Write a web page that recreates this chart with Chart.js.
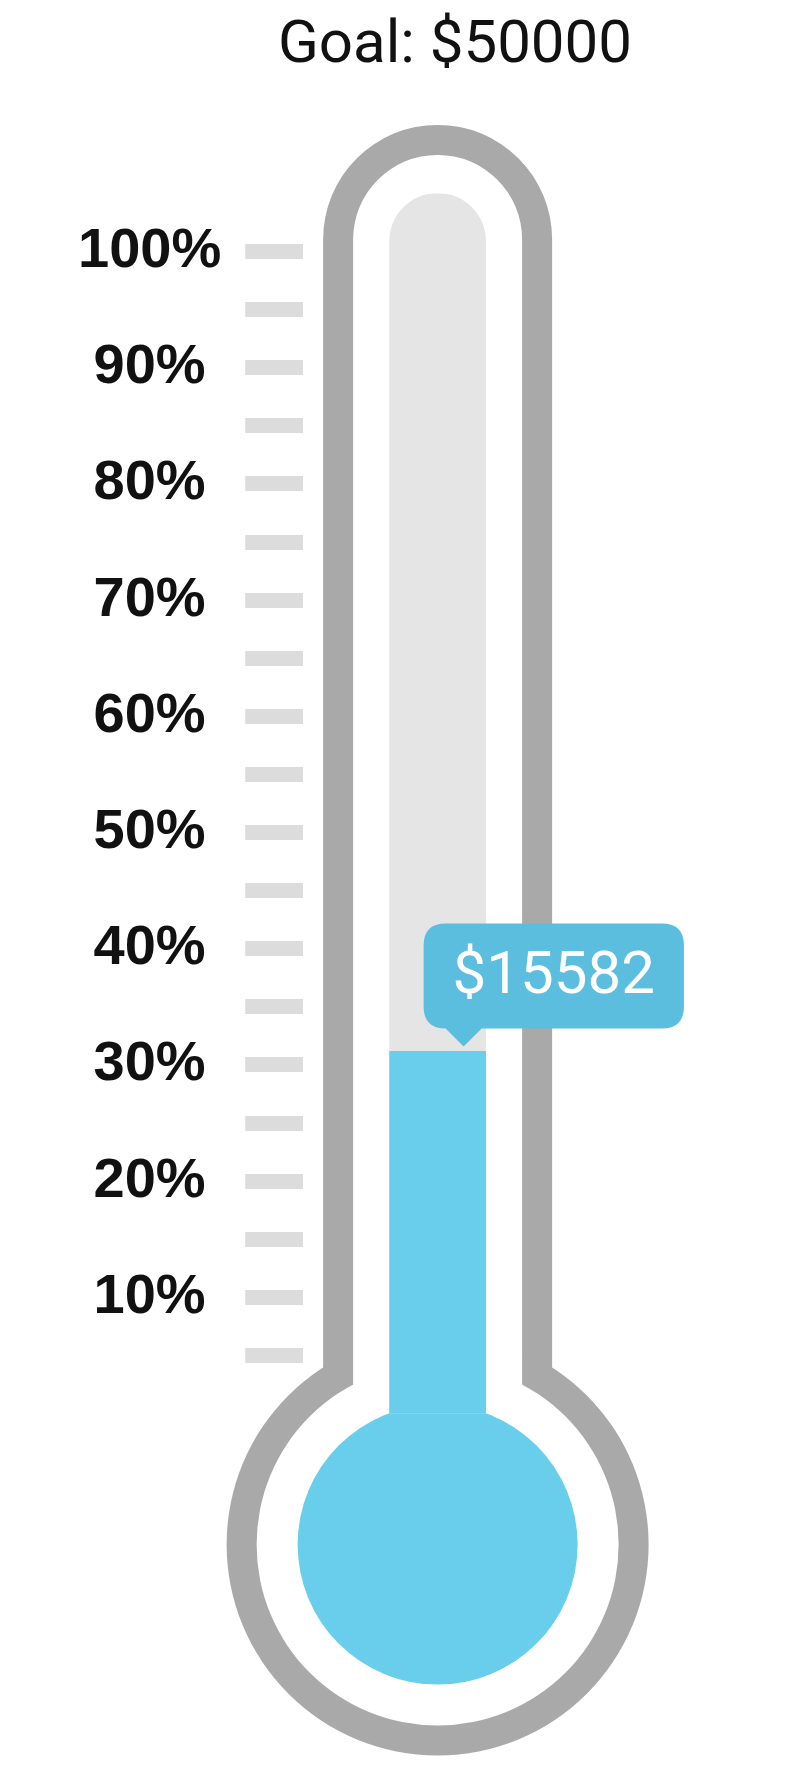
<!DOCTYPE html>
<html>
<head>
<meta charset="utf-8">
<script src="https://cdn.jsdelivr.net/npm/chart.js@4.4.1/dist/chart.umd.min.js"></script>
<style>
  body { margin: 0; background: #fff; }
  #wrap { width: 795px; height: 1772px; position: relative; }
</style>
</head>
<body>
<div id="wrap"><canvas id="chart"></canvas></div>
<script>
const categories = ['Raised'];
const goal = 50000;
const raised = [15582];
const trackTop = [52500];
const tickPercents = [5, 10, 15, 20, 25, 30, 35, 40, 45, 50, 55, 60, 65, 70, 75, 80, 85, 90, 95, 100];
const labelPercents = [10, 20, 30, 40, 50, 60, 70, 80, 90, 100];

const blue = '#69cdec';

Chart.Tooltip.positioners.thermo = function (items) {
    if (!items.length) {
        return false;
    }
    const el = items[0].element;
    return { x: el.x + 26, y: el.y };
};

// glass tube, bulb and the goal text
const thermometer = {
    id: 'thermometer',
    beforeDatasetsDraw(chart) {
        const ctx = chart.ctx;
        const x = chart.scales.x;
        const y = chart.scales.y;
        const cx = x.getPixelForValue(0);
        const y0 = y.getPixelForValue(0);
        const capY = y.getPixelForValue(y.max) + 46;
        const bulbY = y0 + 131;

        function shape(half, r) {
            ctx.beginPath();
            ctx.arc(cx, capY, half, Math.PI, 0);
            ctx.lineTo(cx + half, bulbY);
            ctx.lineTo(cx - half, bulbY);
            ctx.closePath();
            ctx.fill();
            ctx.beginPath();
            ctx.arc(cx, bulbY, r, 0, Math.PI * 2);
            ctx.fill();
        }

        ctx.save();
        ctx.fillStyle = '#a9a9a9';
        shape(114.5, 211);
        ctx.fillStyle = '#ffffff';
        shape(84.5, 181);
        ctx.fillStyle = blue;
        ctx.beginPath();
        ctx.arc(cx, bulbY, 140, 0, Math.PI * 2);
        ctx.fill();
        ctx.restore();
    },
    afterDraw(chart) {
        const ctx = chart.ctx;
        ctx.save();
        ctx.font = '60px Roboto';
        ctx.fillStyle = '#111';
        ctx.textAlign = 'center';
        ctx.textBaseline = 'alphabetic';
        ctx.fillText('Goal: $' + goal, 455, 62);
        ctx.restore();
    }
};

const ctx = document.getElementById('chart');

const chart = new Chart(ctx, {
    type: 'bar',
    data: {
        labels: categories,
        datasets: [{
            label: 'Raised',
            data: raised,
            backgroundColor: blue,
            barThickness: 96,
            grouped: false,
            borderRadius: 0
        },
        {
            label: 'Goal',
            data: trackTop,
            backgroundColor: '#e5e5e5',
            barThickness: 96,
            grouped: false,
            borderRadius: { topLeft: 48, topRight: 48, bottomLeft: 0, bottomRight: 0 }
        }]
    },
    options: {
        responsive: true,
        maintainAspectRatio: false,
        animation: false,
        events: [],
        layout: {
            padding: { top: 193.4, bottom: 358.4, left: 54, right: 223 }
        },
        scales: {
            x: {
                display: false
            },
            y: {
                min: 0,
                max: trackTop[0],
                afterBuildTicks: function (scale) {
                    scale.ticks = tickPercents.map(p => ({ value: goal * p / 100 }));
                },
                grid: {
                    drawOnChartArea: false,
                    drawTicks: true,
                    tickLength: 58,
                    tickWidth: 15,
                    tickColor: '#dcdcdc'
                },
                border: {
                    display: false
                },
                ticks: {
                    autoSkip: false,
                    crossAlign: 'center',
                    padding: 24,
                    color: '#111',
                    font: {
                        family: 'Liberation Sans',
                        size: 56,
                        weight: 'bold'
                    },
                    callback: function (value) {
                        const pct = Math.round(value / goal * 100);
                        return labelPercents.includes(pct) ? pct + '%' : '';
                    }
                }
            }
        },
        plugins: {
            legend: { display: false },
            title: { display: false },
            tooltip: {
                position: 'thermo',
                xAlign: 'left',
                yAlign: 'bottom',
                backgroundColor: '#5bbedf',
                bodyColor: '#ffffff',
                bodyFont: { family: 'Roboto', size: 60 },
                padding: { top: 19, bottom: 14, left: 29, right: 29 },
                cornerRadius: 22,
                caretSize: 18,
                caretPadding: 5,
                displayColors: false,
                callbacks: {
                    title: () => '',
                    label: item => '$' + item.raw
                }
            }
        }
    },
    plugins: [thermometer]
});

chart.tooltip.setActiveElements([{ datasetIndex: 0, index: 0 }], { x: 0, y: 0 });
chart.update();
</script>
</body>
</html>
